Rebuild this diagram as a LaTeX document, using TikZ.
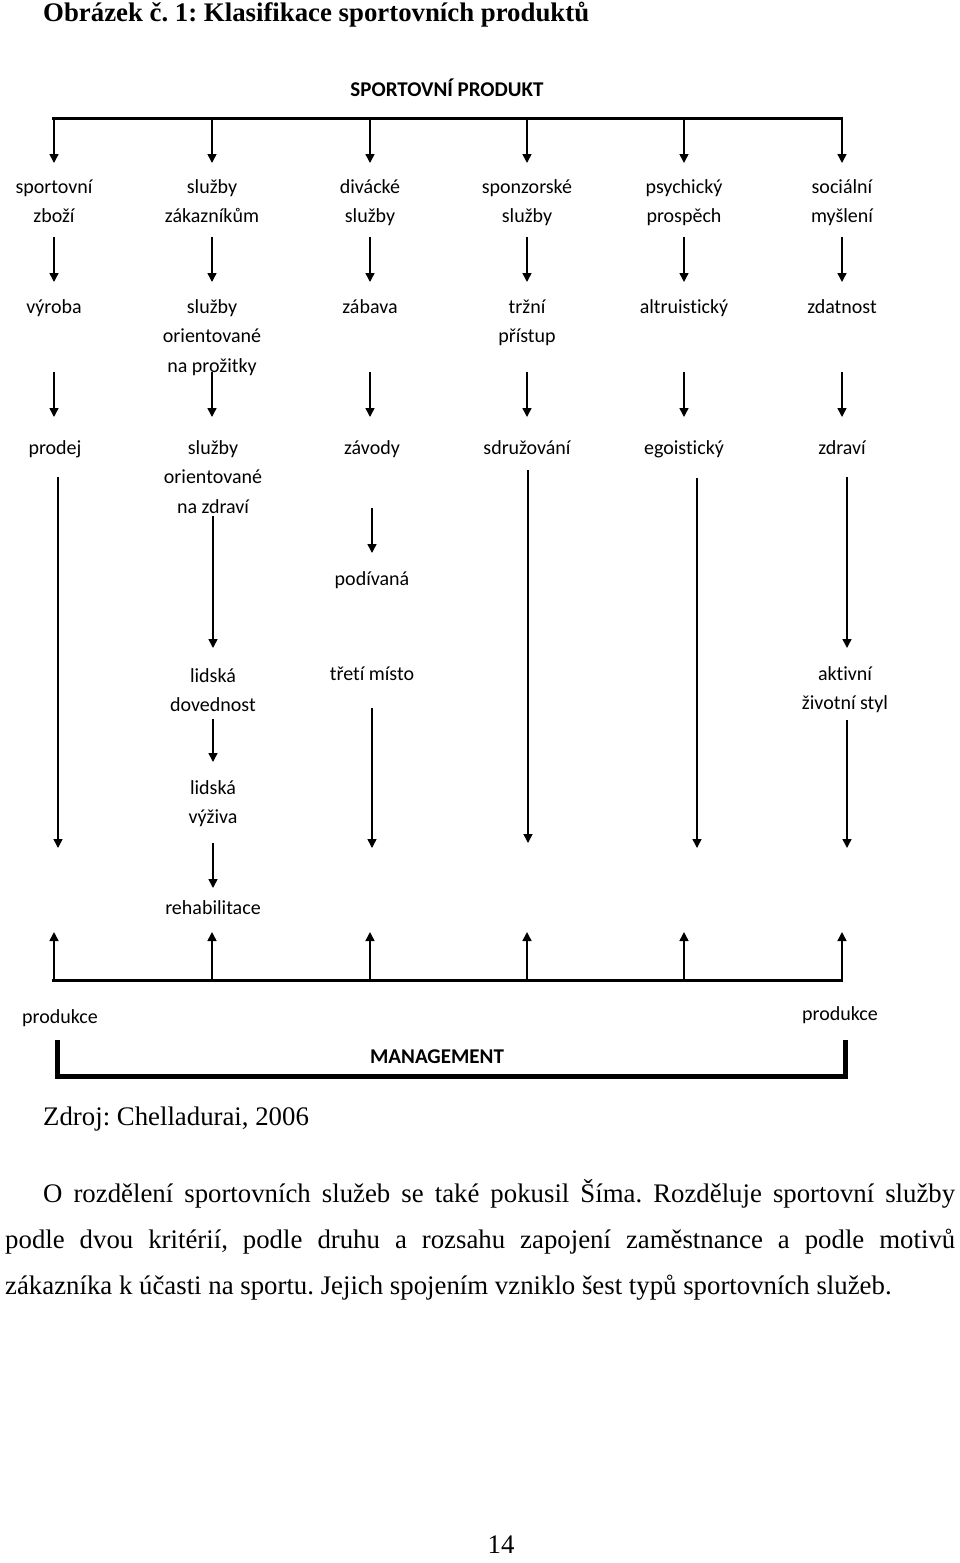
\documentclass[tikz,border=0pt]{standalone}
\usepackage{fontspec}
\setmainfont{Liberation Serif}
\newfontfamily\dfont{Carlito}[Ligatures=NoCommon]
\usetikzlibrary{arrows.meta}
\newcommand\hs{\rule{0pt}{18pt}}
\newcommand\ds{\rule[-6pt]{0pt}{6pt}}
\frenchspacing
\begin{document}
\begin{tikzpicture}[x=1pt,y=-1pt,
 lab/.style={font=\dfont\fontsize{20}{29.5}\selectfont, align=center, inner sep=0pt, anchor=north},
 arr/.style={line width=1.5pt, -{Triangle[width=9pt,length=9pt]}},
 bar/.style={line width=3pt},
 body/.style={font=\fontsize{26.8}{46}\selectfont, inner sep=0pt, anchor=base west},
 head/.style={font=\dfont\bfseries\fontsize{21}{25}\selectfont, inner sep=0pt},
]
\fill[white] (0,0) rectangle (960,1563);
\useasboundingbox (0,0) rectangle (960,1563);

\node[body, font=\bfseries\fontsize{26.8}{30}\selectfont] (title) at (43,22) {Obrázek č. 1: Klasifikace sportovních produktů};

\node[head] (sp) at (447,88) {SPORTOVNÍ PRODUKT};
\draw[bar] (52,118) -- (843,118);
\coordinate (tA) at (54,118);
\coordinate (tB) at (212,118);
\coordinate (tC) at (370,118);
\coordinate (tD) at (527,118);
\coordinate (tE) at (684,118);
\coordinate (tF) at (842,118);

% row 1
\node[lab] (a1) at (54,175) {\hs sportovní\\zboží\ds};
\node[lab] (b1) at (212,175) {\hs služby\\zákazníkům\ds};
\node[lab] (c1) at (370,175) {\hs divácké\\služby\ds};
\node[lab] (d1) at (527,175) {\hs sponzorské\\služby\ds};
\node[lab] (e1) at (684,175) {\hs psychický\\prospěch\ds};
\node[lab] (f1) at (842,175) {\hs sociální\\myšlení\ds};
% row 2
\node[lab] (a2) at (54,295) {\hs výroba\ds};
\node[lab] (b2) at (212,295) {\hs služby\\orientované\\na prožitky\ds};
\node[lab] (c2) at (370,295) {\hs zábava\ds};
\node[lab] (d2) at (527,295) {\hs tržní\\přístup\ds};
\node[lab] (e2) at (684,295) {\hs altruistický\ds};
\node[lab] (f2) at (842,295) {\hs zdatnost\ds};
% row 3
\node[lab] (a3) at (55,436) {\hs prodej\ds};
\node[lab] (b3) at (213,436) {\hs služby\\orientované\\na zdraví\ds};
\node[lab] (c3) at (372,436) {\hs závody\ds};
\node[lab] (d3) at (527,436) {\hs sdružování\ds};
\node[lab] (e3) at (684,436) {\hs egoistický\ds};
\node[lab] (f3) at (842,436) {\hs zdraví\ds};
% lower
\node[lab] (c4) at (372,567) {\hs podívaná\ds};
\node[lab] (c5) at (372,662) {\hs třetí místo\ds};
\node[lab] (b4) at (213,664) {\hs lidská\\dovednost\ds};
\node[lab] (f4) at (845,662) {\hs aktivní\\životní styl\ds};
\node[lab] (b5) at (213,776) {\hs lidská\\výživa\ds};
\node[lab] (b6) at (213,896) {\hs rehabilitace\ds};

% arrows from top bar
\foreach \t/\n in {tA/a1,tB/b1,tC/c1,tD/d1,tE/e1,tF/f1}
  \draw[arr, shorten >=12pt] (\t) -- (\n);
% row1 -> row2
\foreach \s/\n in {a1/a2,b1/b2,c1/c2,d1/d2,e1/e2,f1/f2}
  \draw[arr, shorten <=8pt, shorten >=13pt] (\s) -- (\n);
% row2 -> row3
\draw[arr, shorten <=53pt, shorten >=19pt] (a2) -- (a2 |- a3.north);
\draw[arr, shorten <=-6pt, shorten >=19pt] (b2) -- (b2 |- b3.north);
\draw[arr, shorten <=53pt, shorten >=19pt] (c2) -- (c2 |- c3.north);
\draw[arr, shorten <=23.5pt, shorten >=19pt] (d2) -- (d3);
\draw[arr, shorten <=53pt, shorten >=19pt] (e2) -- (e3);
\draw[arr, shorten <=53pt, shorten >=19pt] (f2) -- (f3);

% lower chains
\coordinate (zA) at (58,848);
\coordinate (zC) at (372,848);
\coordinate (zD) at (528,843);
\coordinate (zE) at (697,848);
\coordinate (zF) at (847,848);
\draw[arr, shorten <=17pt] (a3.south -| zA) -- (zA);
\draw[arr, shorten <=-3pt, shorten >=16pt] (b3) -- (b4);
\draw[arr, shorten <=48pt, shorten >=14pt] (c3) -- (c4);
\draw[arr, shorten <=22pt] (c5.south -| zC) -- (zC);
\draw[arr, shorten <=10pt] (d3.south -| zD) -- (zD);
\draw[arr, shorten <=18pt] (e3.south -| zE) -- (zE);
\draw[arr, shorten <=17pt, shorten >=14pt] (f3.south -| zF) -- (f4.north -| zF);
\draw[arr, shorten <=4.5pt] (f4.south -| zF) -- (zF);
\draw[arr, shorten <=1pt, shorten >=14pt] (b4) -- (b5);
\draw[arr, shorten <=13.5pt, shorten >=8pt] (b5) -- (b6);

% bottom bar with up arrows
\draw[bar] (52,980) -- (843,980);
\foreach \n/\x in {A/54,B/212,C/370,D/527,E/684,F/842}{
  \coordinate (m\n) at (\x,980);
  \coordinate (u\n) at (\x,932);
  \draw[arr] (m\n) -- (u\n);
}
\node[font=\dfont\fontsize{20}{24}\selectfont, inner sep=0pt] (pl) at (60,1018) {produkce};
\node[font=\dfont\fontsize{20}{24}\selectfont, inner sep=0pt] (pr) at (840,1015) {produkce};
\draw[line width=5pt] (57,1040) -- (57,1076) -- (845,1076) -- (845,1040);
\node[head] (mg) at (437,1057) {MANAGEMENT};

% page text
\node[body] (src) at (43,1125) {Zdroj: Chelladurai, 2006};
\node[body] (p1) at (43,1202) {\makebox[912pt][s]{O rozdělení sportovních služeb se také pokusil Šíma. Rozděluje sportovní služby}};
\node[body] (p2) at (5,1248) {\makebox[950pt][s]{podle dvou kritérií, podle druhu a rozsahu zapojení zaměstnance a podle motivů}};
\node[body] (p3) at (5,1294) {zákazníka k účasti na sportu. Jejich spojením vzniklo šest typů sportovních služeb.};
\node[body, anchor=base] (pg) at (501,1553) {14};
\end{tikzpicture}
\end{document}
